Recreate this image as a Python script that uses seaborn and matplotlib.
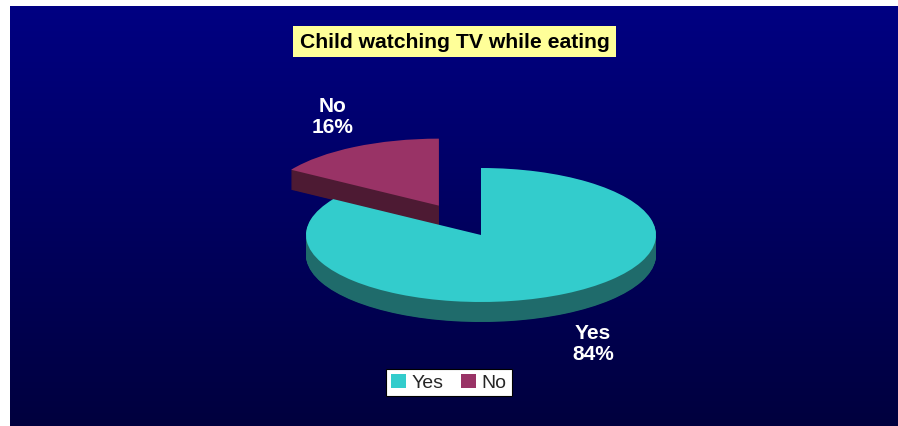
import numpy as np
import matplotlib
matplotlib.use("Agg")
import matplotlib.pyplot as plt
import seaborn as sns
from matplotlib.colors import LinearSegmentedColormap
from matplotlib.patches import Patch

# ---- data ----
categories = ["Yes", "No"]
values = [84, 16]
title = "Child watching TV while eating"

# ---- style ----
top_colors = ["#33CCCC", "#993366"]
side_colors = ["#1F6B6B", "#4D1A33"]
explode = [0.0, 0.5]

sns.set_theme(style="white")
plt.rcParams["font.family"] = ["Liberation Sans", "DejaVu Sans"]

W, H = 898, 427
fig = plt.figure(figsize=(W / 100, H / 100), dpi=100)
fig.patch.set_facecolor("white")

# background gradient panel
bg = fig.add_axes([10 / W, 0, 888 / W, 420 / H])
grad = np.linspace(0, 1, 256).reshape(-1, 1)
cmap = LinearSegmentedColormap.from_list("bg", ["#00003E", "#000082"])
bg.imshow(grad, aspect="auto", cmap=cmap, origin="lower", extent=[0, 1, 0, 1])
bg.axis("off")

# pie axes (pixel mapped so that unit radius -> 175px wide, 67px tall)
ax = fig.add_axes([0, 0, 1, 1])
ax.patch.set_alpha(0)
cx, cy, rx, ry = 481, 236, 175, 67
depth = 20 / ry

def draw_slice(idx, dy, color):
    vals = values
    cols = [color if i == idx else (0, 0, 0, 0) for i in range(len(vals))]
    ax.pie(vals, startangle=90, counterclock=False, colors=cols,
           explode=explode, center=(0, dy), radius=1,
           wedgeprops=dict(linewidth=0, antialiased=True))

# No slice (behind), then Yes slice (front)
for idx in [1, 0]:
    for dy in np.linspace(-depth, -0.01, 40):
        draw_slice(idx, dy, side_colors[idx])
    draw_slice(idx, 0, top_colors[idx])

ax.set_aspect("auto")
ax.set_xlim((0 - cx) / rx, (W - cx) / rx)
ax.set_ylim((cy - H) / ry, cy / ry)
ax.axis("off")

# labels
label_pos = {"Yes": (593, 344), "No": (333, 117)}
for cat, val in zip(categories, values):
    px, py = label_pos[cat]
    fig.text(px / W, 1 - py / H, f"{cat}\n{val}%", ha="center", va="center",
             ma="center", color="white", fontsize=15, fontweight="bold",
             linespacing=1.15)

# title
fig.text(454.5 / W, 1 - 42.5 / H, title, ha="center", va="center",
         fontsize=15.2, fontweight="bold", color="black",
         bbox=dict(boxstyle="square,pad=0.3", facecolor="#FFFF99",
                   edgecolor="none"))

# legend
handles = [Patch(facecolor=c, edgecolor="none") for c in top_colors]
leg = fig.legend(handles, categories, loc="center",
                 bbox_to_anchor=(449 / W, 1 - 383.5 / H), ncol=2,
                 frameon=True, fancybox=False, edgecolor="black",
                 facecolor="white", framealpha=1, fontsize=14,
                 handlelength=0.75, handleheight=0.75, columnspacing=0.9,
                 handletextpad=0.3, borderpad=0.25, borderaxespad=0)
leg.get_frame().set_linewidth(0.8)

fig.savefig("out.png", dpi=100, facecolor=fig.get_facecolor())
